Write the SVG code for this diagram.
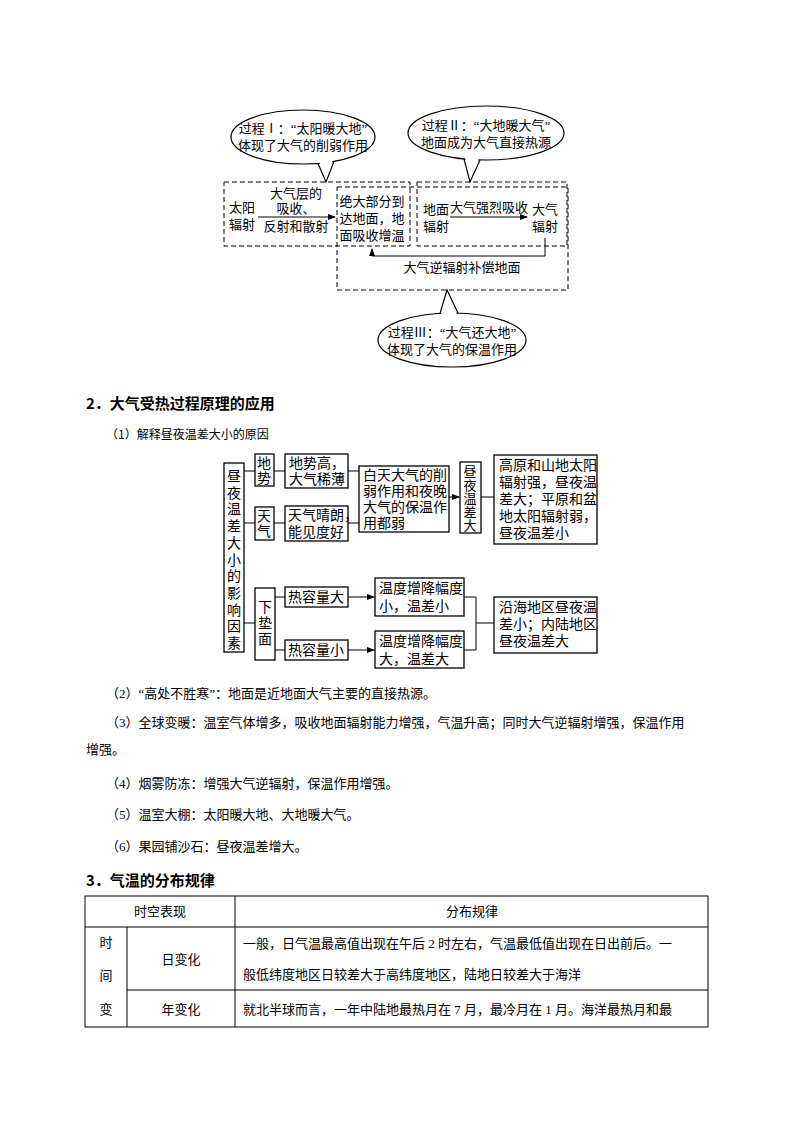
<svg xmlns="http://www.w3.org/2000/svg" width="794" height="1123" viewBox="0 0 794 1123">
<defs>
<marker id="ar" markerWidth="8" markerHeight="6" refX="7" refY="3" orient="auto" markerUnits="userSpaceOnUse"><path d="M0,0 L8,3 L0,6 Z" fill="#000"/></marker>
</defs>
<style>
text{font-family:"Liberation Serif","Noto Sans CJK SC",serif;fill:#000;font-size:13px}
.c{text-anchor:middle}
.d{fill:none;stroke:#000;stroke-width:1;stroke-dasharray:5,3}
.b{fill:#fff;stroke:#000;stroke-width:1.3}
.l{fill:none;stroke:#000;stroke-width:1}
.e{fill:#fff;stroke:#000;stroke-width:1.2}
.w{fill:#fff;stroke:none}
.s{font-family:"Noto Sans CJK SC",sans-serif;font-size:12px}
.h{font-family:"Noto Sans CJK SC",sans-serif;font-size:15px;font-weight:bold}
.v{font-size:14px}
</style>
<rect width="794" height="1123" fill="#fff"/>
<g id="boxes1">
<rect class="d" x="224" y="182" width="186" height="64"/>
<rect class="d" x="337" y="187" width="231" height="103"/>
<rect class="d" x="417" y="182" width="150" height="64"/>
</g>
<g id="callout1"><ellipse class="e" cx="303" cy="137" rx="72" ry="27"/>
<polygon class="w" points="319,161 326,182 333,159"/><polyline class="l" style="stroke-width:1.2" points="318,163.4 326,182 334,161.4"/>
<text class="c" x="303" y="133">过程Ⅰ：“太阳暖大地”</text><text class="c" x="303" y="150">体现了大气的削弱作用</text></g>
<g id="callout2"><ellipse class="e" cx="486" cy="133" rx="78" ry="27"/>
<polygon class="w" points="465,157 470,182 479,158"/><polyline class="l" style="stroke-width:1.2" points="464,158.9 470,182 480,159.9"/>
<text class="c" x="486" y="130">过程Ⅱ：“大地暖大气”</text><text class="c" x="486" y="147">地面成为大气直接热源</text></g>
<g id="callout3"><ellipse class="e" cx="452" cy="340" rx="74" ry="27"/>
<polygon class="w" points="441,315 447,290 457,315"/><polyline class="l" style="stroke-width:1.2" points="440,313.4 447,290 458,313.1"/>
<text class="c" x="452" y="337">过程Ⅲ：“大气还大地”</text><text class="c" x="452" y="354">体现了大气的保温作用</text></g>
<g id="n1"><text class="c" x="242" y="212">太阳</text><text class="c" x="242" y="229">辐射</text></g>
<g id="n2"><text class="c" x="372" y="206">绝大部分到</text><text class="c" x="372" y="223">达地面，地</text><text class="c" x="372" y="240">面吸收增温</text></g>
<g id="n3"><text class="c" x="436" y="214">地面</text><text class="c" x="436" y="231">辐射</text></g>
<g id="n4"><text class="c" x="545" y="214">大气</text><text class="c" x="545" y="231">辐射</text></g>
<g id="conn1">
<line class="l" x1="258" y1="217" x2="335" y2="217" marker-end="url(#ar)"/>
<text class="c" x="296" y="198">大气层的</text><text class="c" x="296" y="213">吸收、</text><text class="c" x="296" y="231">反射和散射</text>
<line class="l" x1="450" y1="217" x2="527" y2="217" marker-end="url(#ar)"/>
<text class="c" x="489" y="212">大气强烈吸收</text>
<polyline class="l" points="545,238 545,256 372,256 372,249" marker-end="url(#ar)"/>
<text class="c" x="462" y="272">大气逆辐射补偿地面</text>
</g>
<text class="h" x="86" y="409">2．大气受热过程原理的应用</text>
<text class="s" x="106" y="439">（1）解释昼夜温差大小的原因</text>
<g id="t0"><rect class="b" x="224" y="463" width="20" height="189"/><text class="c v" x="234" y="481">昼<tspan x="234" dy="16.7">夜</tspan><tspan x="234" dy="16.7">温</tspan><tspan x="234" dy="16.7">差</tspan><tspan x="234" dy="16.7">大</tspan><tspan x="234" dy="16.7">小</tspan><tspan x="234" dy="16.7">的</tspan><tspan x="234" dy="16.7">影</tspan><tspan x="234" dy="16.7">响</tspan><tspan x="234" dy="16.7">因</tspan><tspan x="234" dy="16.7">素</tspan></text></g>
<g id="t1"><rect class="b" x="255" y="454" width="19" height="32"/><text class="c v" x="264" y="468">地<tspan x="264" dy="15">势</tspan></text></g>
<g id="t2"><rect class="b" x="255" y="507" width="19" height="33"/><text class="c v" x="264" y="521">天<tspan x="264" dy="15">气</tspan></text></g>
<g id="t3"><rect class="b" x="255" y="588" width="20" height="72"/><text class="c v" x="265" y="612">下<tspan x="265" dy="16">垫</tspan><tspan x="265" dy="16">面</tspan></text></g>
<g id="t4"><rect class="b" x="285" y="454" width="63" height="34"/><text class="v" x="289" y="468">地势高，</text><text class="v" x="289" y="484">大气稀薄</text></g>
<g id="t5"><rect class="b" x="285" y="506" width="63" height="35"/><text class="v" x="288" y="520">天气晴朗，</text><text class="v" x="288" y="537">能见度好</text></g>
<g id="t6"><rect class="b" x="359" y="466" width="90" height="66"/><text class="v" x="363" y="480">白天大气的削</text><text class="v" x="363" y="496">弱作用和夜晚</text><text class="v" x="363" y="512">大气的保温作</text><text class="v" x="363" y="528">用都弱</text></g>
<g id="t7"><rect class="b" x="460" y="462" width="21" height="71"/><text class="c" x="470" y="476">昼<tspan x="470" dy="13.5">夜</tspan><tspan x="470" dy="13.5">温</tspan><tspan x="470" dy="13.5">差</tspan><tspan x="470" dy="13.5">大</tspan></text></g>
<g id="t8"><rect class="b" x="494" y="455" width="103" height="89"/><text class="v" x="499" y="470">高原和山地太阳</text><text class="v" x="499" y="487">辐射强，昼夜温</text><text class="v" x="499" y="504">差大；平原和盆</text><text class="v" x="499" y="521">地太阳辐射弱，</text><text class="v" x="499" y="538">昼夜温差小</text></g>
<g id="t9"><rect class="b" x="285" y="587" width="63" height="20"/><text class="c v" x="316" y="602">热容量大</text></g>
<g id="t10"><rect class="b" x="285" y="640" width="63" height="20"/><text class="c v" x="316" y="655">热容量小</text></g>
<g id="t11"><rect class="b" x="375" y="578" width="89" height="38"/><text class="v" x="379" y="593">温度增降幅度</text><text class="v" x="379" y="611">小，温差小</text></g>
<g id="t12"><rect class="b" x="375" y="631" width="89" height="37"/><text class="v" x="379" y="646">温度增降幅度</text><text class="v" x="379" y="664">大，温差大</text></g>
<g id="t13"><rect class="b" x="494" y="597" width="103" height="56"/><text class="v" x="499" y="612">沿海地区昼夜温</text><text class="v" x="499" y="629">差小；内陆地区</text><text class="v" x="499" y="646">昼夜温差大</text></g>
<g id="conn2">
<line class="l" x1="244" y1="471" x2="255" y2="471"/>
<line class="l" x1="244" y1="523" x2="255" y2="523"/>
<line class="l" x1="244" y1="623" x2="255" y2="623"/>
<line class="l" x1="274" y1="471" x2="285" y2="471"/>
<line class="l" x1="274" y1="523" x2="285" y2="523"/>
<line class="l" x1="348" y1="471" x2="359" y2="471"/>
<line class="l" x1="348" y1="523" x2="359" y2="523"/>
<line class="l" x1="449" y1="497" x2="459" y2="497" marker-end="url(#ar)"/>
<line class="l" x1="481" y1="497" x2="494" y2="497"/>
<line class="l" x1="275" y1="597" x2="285" y2="597"/>
<line class="l" x1="275" y1="650" x2="285" y2="650"/>
<line class="l" x1="348" y1="597" x2="374" y2="597" marker-end="url(#ar)"/>
<line class="l" x1="348" y1="650" x2="374" y2="650" marker-end="url(#ar)"/>
<polyline class="l" points="464,597 476,597 476,650 464,650"/>
<line class="l" x1="476" y1="623" x2="494" y2="623"/>
</g>
<g class="s">
<text x="106" y="698">（2）“高处不胜寒”：地面是近地面大气主要的直接热源。</text>
<text x="106" y="727">（3）全球变暖：温室气体增多，吸收地面辐射能力增强，气温升高；同时大气逆辐射增强，保温作用</text>
<text x="86" y="754">增强。</text>
<text x="106" y="788">（4）烟雾防冻：增强大气逆辐射，保温作用增强。</text>
<text x="106" y="819">（5）温室大棚：太阳暖大地、大地暖大气。</text>
<text x="106" y="851">（6）果园铺沙石：昼夜温差增大。</text>
</g>
<text class="h" x="86" y="886">3．气温的分布规律</text>
<g id="table">
<rect class="l" x="85" y="896" width="623" height="131"/>
<line class="l" x1="85" y1="927" x2="708" y2="927"/>
<line class="l" x1="127" y1="990" x2="708" y2="990"/>
<line class="l" x1="127" y1="927" x2="127" y2="1027"/>
<line class="l" x1="235" y1="896" x2="235" y2="1027"/>
<g class="s">
<text class="c" x="160" y="916">时空表现</text><text class="c" x="472" y="916">分布规律</text>
<text class="c" x="106" y="947">时</text><text class="c" x="106" y="980">间</text><text class="c" x="106" y="1014">变</text>
<text class="c" x="181" y="964">日变化</text><text class="c" x="181" y="1014">年变化</text>
<text x="243" y="948">一般，日气温最高值出现在午后 2 时左右，气温最低值出现在日出前后。一</text>
<text x="243" y="979">般低纬度地区日较差大于高纬度地区，陆地日较差大于海洋</text>
<text x="243" y="1014">就北半球而言，一年中陆地最热月在 7 月，最冷月在 1 月。海洋最热月和最</text>
</g>
</g>
</svg>
